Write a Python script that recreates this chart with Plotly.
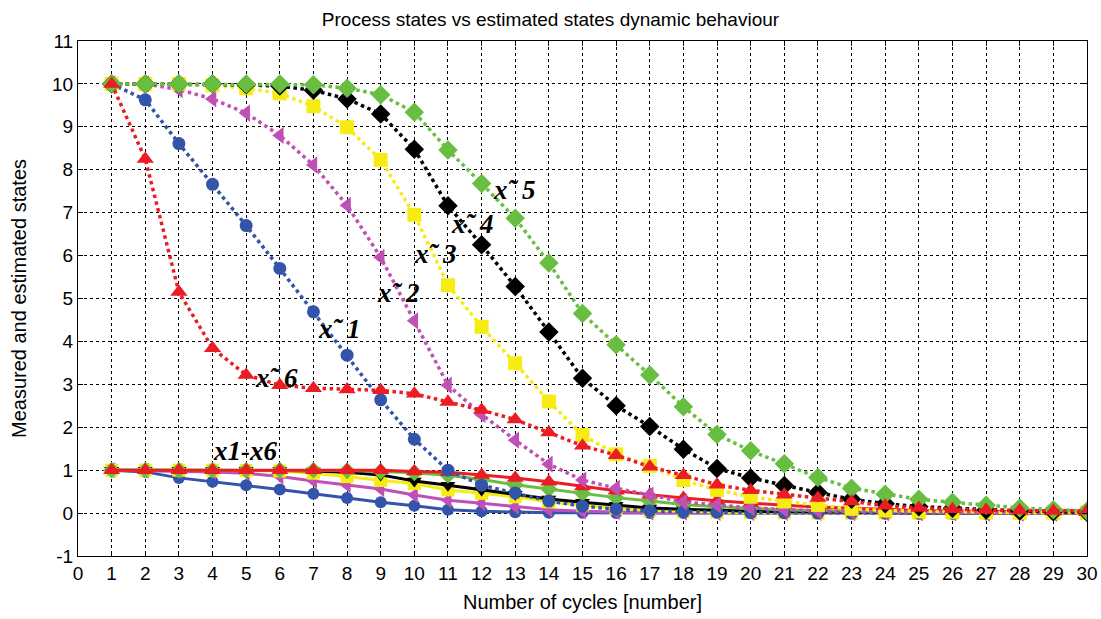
import plotly.graph_objects as go

cycles = list(range(1, 31))

# Measured process states (solid)
x1 = [1.00, 0.96, 0.82, 0.73, 0.65, 0.55, 0.45, 0.35, 0.25, 0.17, 0.08, 0.04, 0.02, 0.01, 0.01,
      0.00, 0.00, 0.00, 0.00, 0.00, 0.00, 0.00, 0.00, 0.00, 0.00, 0.00, 0.00, 0.00, 0.00, 0.00]
x2 = [1.00, 0.99, 0.98, 0.96, 0.93, 0.85, 0.75, 0.65, 0.56, 0.42, 0.30, 0.23, 0.15, 0.08, 0.04,
      0.02, 0.01, 0.01, 0.00, 0.00, 0.00, 0.00, 0.00, 0.00, 0.00, 0.00, 0.00, 0.00, 0.00, 0.00]
x3 = [1.00, 1.00, 1.00, 1.00, 0.99, 0.98, 0.93, 0.85, 0.76, 0.69, 0.54, 0.46, 0.38, 0.26, 0.19,
      0.11, 0.06, 0.04, 0.02, 0.01, 0.01, 0.00, 0.00, 0.00, 0.00, 0.00, 0.00, 0.00, 0.00, 0.00]
x4 = [1.00, 1.00, 1.00, 1.00, 1.00, 0.99, 0.98, 0.95, 0.89, 0.75, 0.65, 0.54, 0.44, 0.33, 0.25,
      0.18, 0.12, 0.09, 0.06, 0.04, 0.03, 0.02, 0.01, 0.01, 0.00, 0.00, 0.00, 0.00, 0.00, 0.00]
x5 = [1.00, 1.00, 1.00, 1.00, 1.00, 1.00, 1.00, 0.99, 0.97, 0.94, 0.88, 0.78, 0.66, 0.56, 0.46,
      0.36, 0.28, 0.20, 0.15, 0.11, 0.08, 0.06, 0.04, 0.03, 0.02, 0.02, 0.01, 0.01, 0.01, 0.01]
x6 = [1.00, 1.00, 1.00, 1.00, 1.00, 1.00, 1.00, 1.00, 1.00, 0.97, 0.95, 0.89, 0.82, 0.73, 0.62,
      0.52, 0.43, 0.35, 0.29, 0.23, 0.18, 0.14, 0.11, 0.08, 0.06, 0.05, 0.04, 0.03, 0.03, 0.02]

# Estimated states (dotted)
xe1 = [10.0, 9.63, 8.61, 7.66, 6.70, 5.70, 4.69, 3.68, 2.64, 1.72, 1.00, 0.65, 0.47, 0.28, 0.16,
       0.09, 0.05, 0.03, 0.02, 0.01, 0.01, 0.00, 0.00, 0.00, 0.00, 0.00, 0.00, 0.00, 0.00, 0.00]
xe2 = [10.0, 10.0, 9.87, 9.65, 9.32, 8.80, 8.11, 7.17, 5.96, 4.48, 2.98, 2.30, 1.70, 1.14, 0.77,
       0.58, 0.42, 0.26, 0.19, 0.12, 0.08, 0.05, 0.03, 0.02, 0.01, 0.01, 0.00, 0.00, 0.00, 0.00]
xe3 = [10.0, 10.0, 10.0, 9.97, 9.90, 9.78, 9.48, 8.99, 8.23, 6.95, 5.31, 4.34, 3.49, 2.60, 1.82,
       1.37, 1.10, 0.77, 0.54, 0.38, 0.27, 0.19, 0.10, 0.06, 0.04, 0.03, 0.02, 0.01, 0.01, 0.01]
xe4 = [10.0, 10.0, 10.0, 10.0, 9.98, 9.95, 9.85, 9.65, 9.30, 8.48, 7.16, 6.25, 5.28, 4.22, 3.14,
       2.50, 2.02, 1.49, 1.04, 0.82, 0.64, 0.48, 0.32, 0.22, 0.15, 0.11, 0.07, 0.05, 0.03, 0.02]
xe5 = [10.0, 10.0, 10.0, 10.0, 10.0, 10.0, 9.98, 9.90, 9.75, 9.34, 8.46, 7.68, 6.87, 5.83, 4.65,
       3.92, 3.22, 2.48, 1.83, 1.45, 1.15, 0.83, 0.58, 0.44, 0.32, 0.25, 0.18, 0.12, 0.08, 0.05]
xe6 = [10.0, 8.25, 5.15, 3.84, 3.22, 2.98, 2.91, 2.88, 2.86, 2.78, 2.59, 2.40, 2.18, 1.88, 1.57,
       1.35, 1.08, 0.88, 0.66, 0.53, 0.43, 0.35, 0.27, 0.17, 0.12, 0.09, 0.07, 0.06, 0.05, 0.05]

x_ticks = list(range(0, 31))
y_ticks = list(range(-1, 12))

BLUE = "rgb(52,84,170)"
MAGENTA = "rgb(192,80,182)"
YELLOW = "rgb(246,236,20)"
BLACK = "rgb(0,0,0)"
GREEN = "rgb(104,190,64)"
RED = "rgb(236,28,36)"

fig = go.Figure()

solid = [
    (x1, BLUE, "circle", 12),
    (x2, MAGENTA, "triangle-left", 14),
    (x3, YELLOW, "square", 13),
    (x4, BLACK, "triangle-down", 13),
    (x5, GREEN, "diamond", 13),
    (x6, RED, "triangle-up", 15),
]
for vals, col, sym, sz in solid:
    fig.add_trace(go.Scatter(x=cycles, y=vals, mode="lines+markers",
                             line=dict(color=col, width=3),
                             marker=dict(symbol=sym, size=sz, color=col),
                             showlegend=False))

dotted = [
    (xe1, BLUE, "circle", 13),
    (xe2, MAGENTA, "triangle-left", 15),
    (xe3, YELLOW, "square", 14),
    (xe4, BLACK, "diamond", 15),
    (xe5, GREEN, "diamond", 15),
    (xe6, RED, "triangle-up", 15),
]
for vals, col, sym, sz in dotted:
    fig.add_trace(go.Scatter(x=cycles, y=vals, mode="lines+markers",
                             line=dict(color=col, width=3.5, dash="dot"),
                             marker=dict(symbol=sym, size=sz, color=col),
                             showlegend=False))

labels = [
    ("x\u02dc\u20095", 12.96, 7.53),
    ("x\u02dc\u20094", 11.71, 6.74),
    ("x\u02dc\u20093", 10.61, 6.04),
    ("x\u02dc\u20092", 9.51, 5.13),
    ("x\u02dc\u20091", 7.75, 4.29),
    ("x\u02dc\u20096", 5.91, 3.15),
    ("x1-x6", 4.96, 1.45),
]
for t, ax, ay in labels:
    fig.add_annotation(x=ax, y=ay, text="<b><i>" + t + "</i></b>", showarrow=False,
                       font=dict(family="Liberation Serif", size=27, color="black"),
                       xanchor="center", yanchor="middle")

axis_common = dict(
    showline=True, linecolor="black", linewidth=1, mirror="ticks",
    ticks="inside", ticklen=5, tickcolor="black",
    showgrid=True, gridcolor="black", gridwidth=1, griddash="3px,3px",
    zeroline=False, automargin=False,
    tickfont=dict(family="Liberation Sans", size=19, color="black"),
)

fig.update_xaxes(range=[0, 30], tickvals=x_ticks, ticktext=[str(v) for v in x_ticks],
                 title=dict(text="Number of cycles [number]",
                            font=dict(family="Liberation Sans", size=20, color="black"),
                            standoff=12),
                 **axis_common)
fig.update_yaxes(range=[-1, 11], tickvals=y_ticks, ticktext=[str(v) for v in y_ticks],
                 title=dict(text="Measured and estimated states",
                            font=dict(family="Liberation Sans", size=20, color="black"),
                            standoff=20),
                 **axis_common)

fig.update_layout(
    width=1101, height=619,
    margin=dict(l=78, r=14, t=41, b=63),
    paper_bgcolor="white", plot_bgcolor="white",
    title=dict(text="Process states vs estimated states dynamic behaviour",
               x=0.5, xanchor="center", y=0.968, yanchor="middle",
               font=dict(family="Liberation Sans", size=19, color="black")),
)

fig.write_html("out.html")
